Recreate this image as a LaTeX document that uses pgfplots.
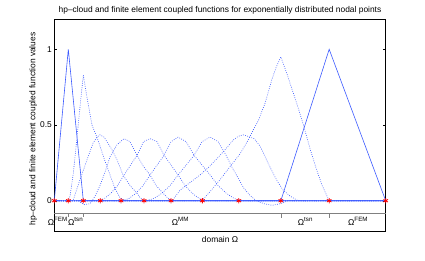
\documentclass[border=0pt]{standalone}
\usepackage{fontspec}
\setmainfont{Liberation Sans}
\usepackage{pgfplots}
\pgfplotsset{compat=1.18}
\definecolor{mb}{RGB}{60,90,255}
\newcommand{\fs}{\fontsize{8.4}{10}\selectfont}
\newcommand{\sps}[1]{\raisebox{3.4pt}{\fontsize{6.2}{7}\selectfont #1}}
\begin{document}
\begin{tikzpicture}
\begin{axis}[at={(0,0)}, anchor=south west, scale only axis,
  width=331.4pt, height=212pt,
  xmin=54.3, xmax=385.5, ymin=-0.2, ymax=1.2,
  xtick=\empty, ytick={0,0.5,1}, yticklabels={0,0.5,1},
  tick align=inside, major tick length=3pt,
  axis line style={line width=0.5pt},
  tick style={black, line width=0.4pt},
  ticklabel style={font=\fs},
  yticklabel style={xshift=1pt},
  clip=false]
% hp-cloud / coupled functions (dotted)
\pgfplotsset{dotf/.style={mb, line width=0.6pt, dash pattern=on 0.8pt off 1.4pt}}
\addplot[dotf] coordinates {(54.3,0) (68.3,0) (70,0.03) (73.3,0.18) (76.7,0.40) (80,0.62) (83.3,0.83) (87,0.68) (92,0.5) (98,0.40) (104,0.28) (110,0.17) (115,0.08) (120,0.02) (125,0) (385.5,0)};
\addplot[dotf] coordinates {(54.3,0) (73,0) (76,0.06) (80,0.14) (87,0.27) (93,0.38) (97,0.42) (100,0.435) (104,0.42) (111.7,0.34) (117,0.27) (123,0.17) (130,0.10) (137,0.05) (140,0.02) (145,0) (385.5,0)};
\addplot[dotf] coordinates {(54.3,0) (78,0) (84,-0.025) (90,-0.02) (95,0.03) (100,0.10) (105,0.19) (110,0.29) (117,0.37) (124,0.41) (130,0.39) (137,0.30) (143,0.23) (150,0.17) (156,0.10) (163,0.05) (168,0.015) (173,0) (385.5,0)};
\addplot[dotf] coordinates {(54.3,0) (98,0) (104.5,0.015) (111,0.05) (117.5,0.10) (124,0.17) (130.5,0.235) (137,0.30) (143.5,0.39) (150,0.41) (157,0.39) (164,0.30) (171,0.235) (178,0.17) (185,0.10) (192,0.05) (199,0.015) (206,0) (385.5,0)};
\addplot[dotf] coordinates {(54.3,0) (122,0) (129,0.015) (136,0.05) (143,0.10) (150,0.17) (157,0.235) (164,0.30) (171,0.39) (178,0.42) (186,0.39) (194,0.30) (202,0.235) (210,0.17) (218,0.10) (226,0.05) (234,0.015) (242,0) (385.5,0)};
\addplot[dotf] coordinates {(54.3,0) (146,0) (154,0.015) (162,0.05) (170,0.10) (178,0.17) (186,0.235) (194,0.30) (202,0.39) (210,0.42) (218,0.39) (226,0.30) (232,0.22) (238,0.15) (244,0.08) (250,0.035) (256,0) (264,-0.02) (272,-0.03) (280,-0.02) (288,0) (385.5,0)};
\addplot[dotf] coordinates {(54.3,0) (172,0) (180,0.07) (190,0.12) (200,0.17) (210,0.23) (220,0.30) (228,0.36) (233,0.40) (238,0.425) (243,0.435) (248,0.425) (254,0.41) (260,0.36) (265,0.29) (270,0.22) (277,0.13) (283,0.07) (290,0.03) (298,0) (385.5,0)};
\addplot[dotf] coordinates {(54.3,0) (201.7,0) (210,0.06) (220,0.14) (230,0.225) (240,0.31) (248,0.40) (253.3,0.47) (258.3,0.53) (265,0.645) (271.7,0.80) (276,0.88) (280.7,0.95) (286.7,0.84) (296.7,0.64) (303.3,0.50) (310,0.34) (316.7,0.20) (322,0.10) (329,0) (385.5,0)};
% FEM hat functions (solid)
\addplot[mb, line width=0.6pt] coordinates {(54.3,0) (68.3,1) (83.3,0) (385.5,0)};
\addplot[mb, line width=0.6pt] coordinates {(54.3,0) (280.7,0) (329,1) (385.5,0)};
% domain bar
\addplot[gray, line width=0.5pt] coordinates {(54.3,-0.083) (385.5,-0.083)};
\addplot[gray, line width=0.5pt] coordinates {(68.3,-0.083) (68.3,-0.11)};
\addplot[gray, line width=0.5pt] coordinates {(83.3,-0.083) (83.3,-0.11)};
\addplot[gray, line width=0.5pt] coordinates {(280.7,-0.083) (280.7,-0.113)};
\addplot[gray, line width=0.5pt] coordinates {(329,-0.083) (329,-0.113)};
% nodal points
\addplot[only marks, mark=asterisk, mark size=2.6pt, red, mark options={line width=0.8pt}] coordinates {(54.3,0) (68.3,0) (83.3,0) (100.3,0) (121,0) (144,0) (171,0) (202.3,0) (238.7,0) (280.7,0) (329,0) (385.5,0)};
\end{axis}
\node[anchor=base, font=\fs] at (165.7pt,218.5pt) {hp–cloud and finite element coupled functions for exponentially distributed nodal points};
\node[rotate=90, anchor=base, font=\fs] at (-19pt,102pt) {hp–cloud and finite element coupled function values};
\node[anchor=base, font=\fs] at (165.7pt,-11pt) {domain Ω};
\node[anchor=base west, font=\fs, inner sep=0pt] at (-6.6pt,6pt) {Ω\sps{FEM}};
\node[anchor=base west, font=\fs, inner sep=0pt] at (13.7pt,6pt) {Ω\sps{tsn}};
\node[anchor=base west, font=\fs, inner sep=0pt] at (117.4pt,6pt) {Ω\sps{MM}};
\node[anchor=base west, font=\fs, inner sep=0pt] at (243.4pt,6pt) {Ω\sps{tsn}};
\node[anchor=base west, font=\fs, inner sep=0pt] at (293.7pt,6pt) {Ω\sps{FEM}};
\pgfresetboundingbox
\path[use as bounding box] (-54.3pt,-29pt) rectangle (370.7pt,231pt);
\end{tikzpicture}
\end{document}
